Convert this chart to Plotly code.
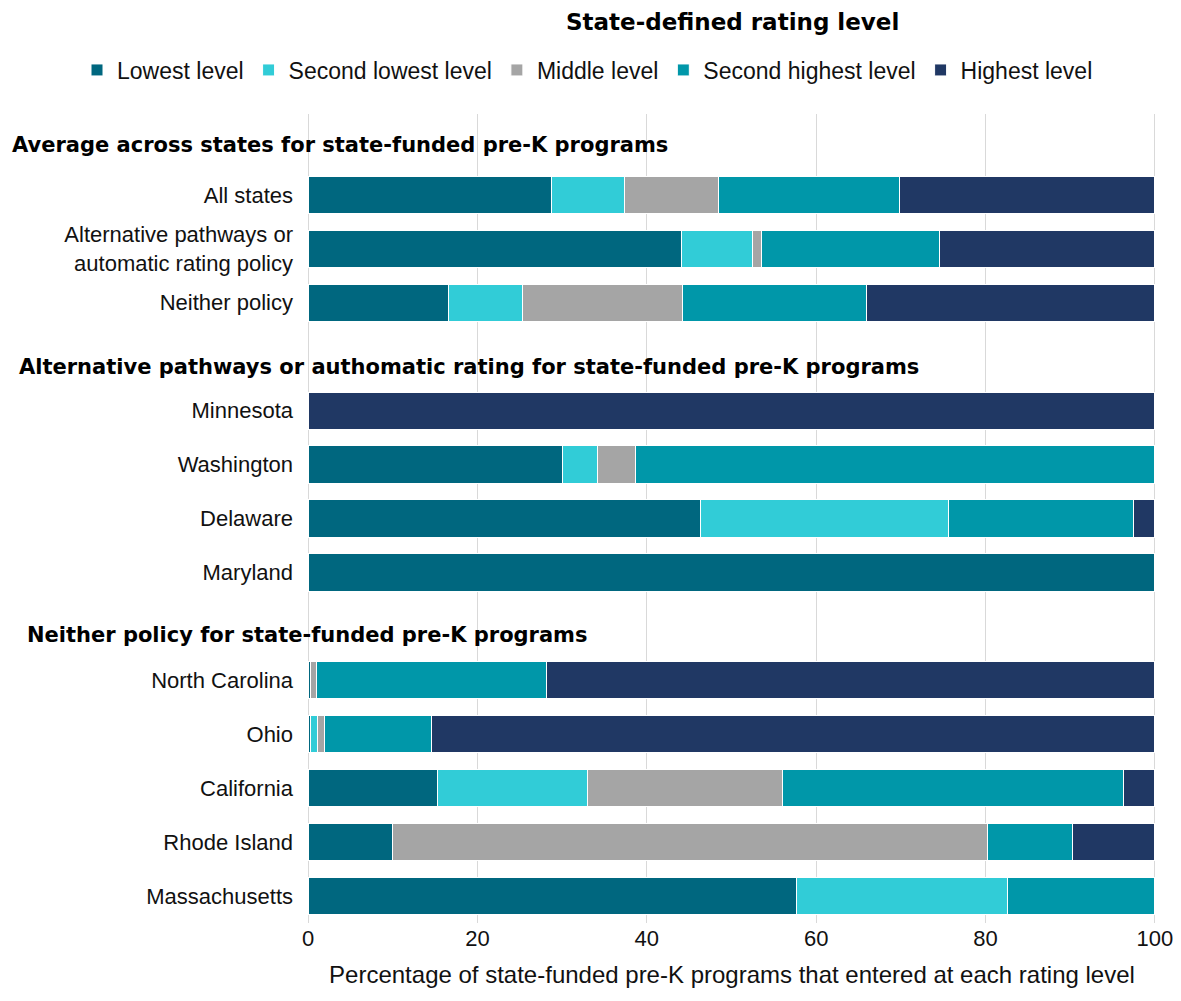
import plotly.graph_objects as go

# ---- data ----
H1 = " "
H2 = "  "
H3 = "   "
rows = [H1, "All states", "Alternative pathways or<br>automatic rating policy", "Neither policy",
        H2, "Minnesota", "Washington", "Delaware", "Maryland",
        H3, "North Carolina", "Ohio", "California", "Rhode Island", "Massachusetts"]

levels = ["Lowest level", "Second lowest level", "Middle level", "Second highest level", "Highest level"]

lowest         = [None, 28.8, 44.1, 16.6, None, 0,   30.1, 46.3, 100, None, 0.3,  0.3,  15.3, 10.0, 57.7]
second_lowest  = [None, 8.6,  8.4,  8.7,  None, 0,   4.1,  29.3, 0,   None, 0,    0.8,  17.7, 0,    24.9]
middle         = [None, 11.1, 1.1,  18.9, None, 0,   4.5,  0,    0,   None, 0.7,  0.8,  23.0, 70.2, 0]
second_highest = [None, 21.3, 20.9, 21.7, None, 0,   61.3, 21.9, 0,   None, 27.2, 12.7, 40.3, 10.1, 17.4]
highest        = [None, 30.2, 25.5, 34.1, None, 100, 0,    2.5,  0,   None, 71.8, 85.4, 3.7,  9.7,  0]

series = [lowest, second_lowest, middle, second_highest, highest]
colors = ["#00677F", "#31CCD7", "#A5A5A5", "#0097A9", "#203864"]

headers = [
    (H1, "Average across states for state-funded pre-K programs", -0.3514, -4),
    (H2, "Alternative pathways or authomatic rating for state-funded pre-K programs", -0.343, -10),
    (H3, "Neither policy for state-funded pre-K programs", -0.3337, -9),
]

xticks = [0, 20, 40, 60, 80, 100]

FONT = "Liberation Sans, Arial, sans-serif"
BOLD = "DejaVu Sans, Liberation Sans, sans-serif"

fig = go.Figure()
for name, vals, col in zip(levels, series, colors):
    fig.add_trace(go.Bar(
        y=rows, x=vals, name=name, orientation="h",
        marker=dict(color=col, line=dict(color="white", width=1)),
    ))

for cat, text, xpos, ys in headers:
    fig.add_annotation(x=xpos, xref="paper", y=cat, yref="y", yshift=ys,
                       text="<b>" + text + "</b>", showarrow=False,
                       xanchor="left", yanchor="middle",
                       font=dict(family=BOLD, size=21, color="#000"))

fig.add_annotation(x=0.5, xref="paper", y=1.1137, yref="paper",
                   text="<b>State-defined rating level</b>", showarrow=False,
                   xanchor="center", yanchor="middle",
                   font=dict(family=BOLD, size=23, color="#000"))

fig.update_layout(
    width=1165, height=985,
    barmode="stack", bargap=0.31,
    plot_bgcolor="white", paper_bgcolor="white",
    margin=dict(l=300, r=17, t=106, b=70, autoexpand=False),
    font=dict(family=FONT, size=21, color="#111"),
    legend=dict(orientation="h", xref="paper", x=-0.2724, xanchor="left",
                yref="paper", y=1.0544, yanchor="middle",
                font=dict(size=23), traceorder="normal", itemwidth=30,
                tracegroupgap=0),
    showlegend=True,
)
fig.update_xaxes(range=[0, 100.12], tickvals=xticks, showgrid=True, gridcolor="#D9D9D9",
                 gridwidth=1, zeroline=True, zerolinecolor="#D9D9D9", zerolinewidth=1,
                 showline=False, ticks="", automargin=False, ticklabeloverflow="allow",
                 title=dict(text="Percentage of state-funded pre-K programs that entered at each rating level",
                            font=dict(size=24), standoff=16),
                 tickfont=dict(size=22))
fig.update_yaxes(categoryorder="array", categoryarray=rows, range=[14.5, -0.5],
                 showgrid=False, ticks="", ticklabelstandoff=14, automargin=False,
                 tickfont=dict(size=22))

fig.write_html("out.html")
